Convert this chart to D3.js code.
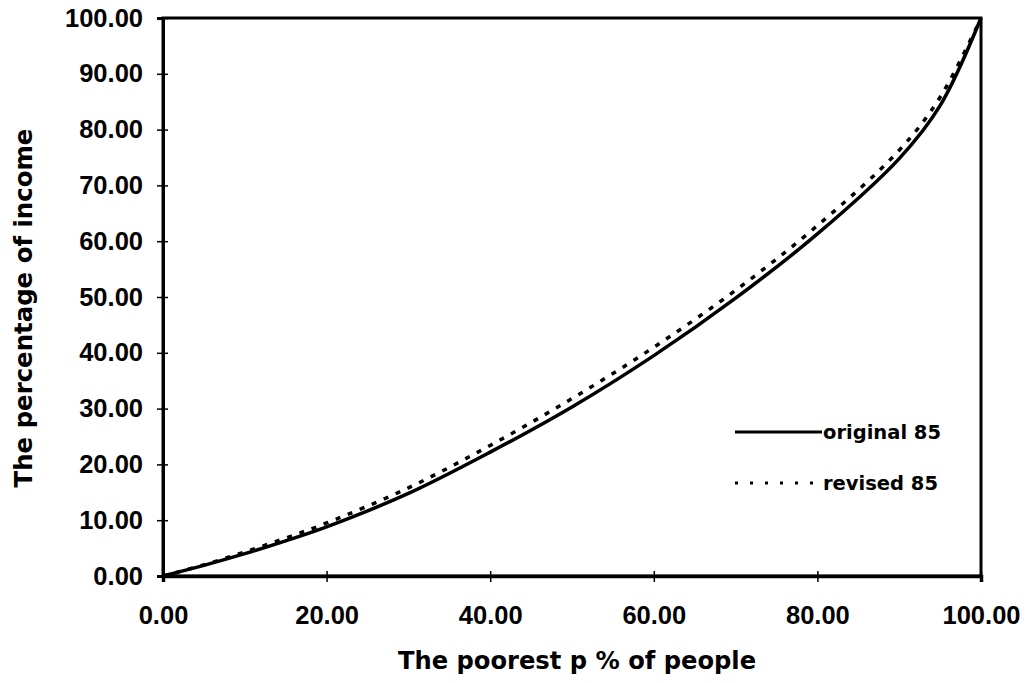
<!DOCTYPE html>
<html lang="en">
  <head>
    <title>Lorenz curves 85</title>
    <script type="text/javascript" src="https://d3js.org/d3.v7.min.js"></script>
    <style>
      body { margin: 0; background: #fff; }
      text { font-weight: bold; fill: #000; }
      .tick-label { font-family: "Liberation Sans", Arial, sans-serif; }
      .title, .legend-text { font-family: "DejaVu Sans", Verdana, sans-serif; }
    </style>
  </head>

  <body>
    <div id="chart"></div>

    <script>
      // cumulative share of people (x) and of income (y)
      const people = [0, 5, 10, 15, 20, 30, 40, 50, 60, 70, 80, 90, 95, 100];
      const original85 = [0, 1.9, 4.0, 6.3, 8.8, 14.8, 22.2, 30.3, 39.5, 49.8, 61.3, 74.8, 84.3, 100];
      const revised85 = [0, 2.0, 4.3, 6.8, 9.5, 15.8, 23.4, 31.8, 41.0, 51.2, 62.8, 76.3, 85.8, 100];
      const xTicks = [0, 20, 40, 60, 80, 100];
      const yTicks = [0, 10, 20, 30, 40, 50, 60, 70, 80, 90, 100];
      const seriesNames = ["original 85", "revised 85"];

      const W = 1025, H = 683;
      const margin = {top: 18, right: 44, bottom: 107, left: 163};
      const width = W - margin.left - margin.right,
            height = H - margin.top - margin.bottom;

      const svg = d3.select("#chart")
        .append("svg")
          .attr("width", W)
          .attr("height", H);

      const g = svg.append("g")
        .attr("transform", "translate(" + margin.left + "," + margin.top + ")");

      const x = d3.scaleLinear().domain([0, 100]).range([0, width]);
      const y = d3.scaleLinear().domain([0, 100]).range([height, 0]);

      // frame
      g.append("rect")
        .attr("width", width)
        .attr("height", height)
        .attr("fill", "none")
        .attr("stroke", "#000")
        .attr("stroke-width", 3);

      // y axis, cross ticks
      const yAxis = g.append("g")
        .call(d3.axisLeft(y).tickValues(yTicks).tickSize(6).tickFormat(d3.format(".2f")));
      yAxis.select(".domain").attr("stroke-width", 3);
      yAxis.selectAll(".tick line").attr("x2", 5).attr("x1", -6).attr("stroke-width", 1.5);
      yAxis.selectAll(".tick text")
        .attr("class", "tick-label")
        .attr("x", -20)
        .style("font-size", "25.5px");

      // x axis
      const xAxis = g.append("g")
        .attr("transform", "translate(0," + height + ")")
        .call(d3.axisBottom(x).tickValues(xTicks).tickSize(6).tickFormat(d3.format(".2f")));
      xAxis.select(".domain").attr("stroke-width", 3.5);
      xAxis.selectAll(".tick line").attr("y1", -5).attr("y2", 6).attr("stroke-width", 1.5);
      xAxis.selectAll(".tick text")
        .attr("class", "tick-label")
        .attr("y", 30)
        .style("font-size", "25.5px");
      svg.selectAll("g").attr("font-family", null).attr("font-size", null);

      // axis titles
      svg.append("text")
        .attr("class", "title")
        .attr("x", 577)
        .attr("y", 669)
        .attr("text-anchor", "middle")
        .style("font-size", "24.2px")
        .text("The poorest p % of people");

      svg.append("text")
        .attr("class", "title")
        .attr("transform", "translate(32,308) rotate(-90)")
        .attr("text-anchor", "middle")
        .style("font-size", "24.4px")
        .text("The percentage of income");

      // curves
      const line = d3.line()
        .x(function(d) { return x(d[0]); })
        .y(function(d) { return y(d[1]); })
        .curve(d3.curveCatmullRom.alpha(0.5));

      g.append("path")
        .datum(d3.zip(people, revised85))
        .attr("fill", "none")
        .attr("stroke", "#000")
        .attr("stroke-width", 3.5)
        .attr("stroke-dasharray", "5,8")
        .attr("d", line);

      g.append("path")
        .datum(d3.zip(people, original85))
        .attr("fill", "none")
        .attr("stroke", "#000")
        .attr("stroke-width", 3.5)
        .attr("d", line);

      // legend
      const legend = svg.append("g").attr("transform", "translate(735,432)");
      seriesNames.forEach(function(name, i) {
        const row = legend.append("g").attr("transform", "translate(0," + i * 51 + ")");
        row.append("line")
          .attr("x1", 0).attr("x2", 87)
          .attr("stroke", "#000")
          .attr("stroke-width", 3)
          .attr("stroke-dasharray", i === 0 ? null : "3,12");
        row.append("text")
          .attr("class", "legend-text")
          .attr("x", 88)
          .attr("dy", "0.36em")
          .style("font-size", "19.5px")
          .text(name);
      });
    </script>

  </body>
</html>
